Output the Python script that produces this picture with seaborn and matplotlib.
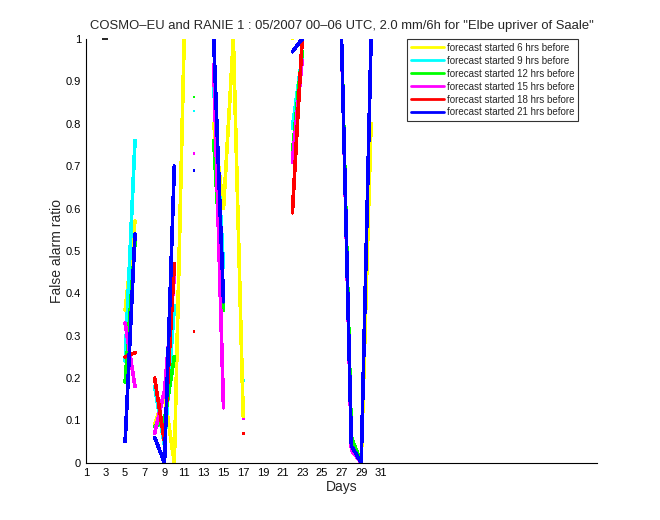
import numpy as np
import pandas as pd
import matplotlib
matplotlib.use("Agg")
import matplotlib.pyplot as plt
import seaborn as sns
from matplotlib.lines import Line2D

nan = np.nan
days = list(range(1, 32))

def series(vals):
    arr = [nan] * 31
    for d, v in vals.items():
        arr[d - 1] = v
    return arr

labels = ["forecast started 6 hrs before", "forecast started 9 hrs before",
          "forecast started 12 hrs before", "forecast started 15 hrs before",
          "forecast started 18 hrs before", "forecast started 21 hrs before"]
colors = ["#ffff00", "#00ffff", "#00ff00", "#ff00ff", "#ff0000", "#0000ff"]

far_6h = series({5: 0.36, 6: 0.57, 8: 0.09, 9: 0.16, 10: 0.0, 11: 1.0,
                 14: 0.80, 15: 0.60, 16: 1.0, 17: 0.11, 22: 1.0,
                 27: 1.0, 28: 0.05, 29: 0.0, 30: 0.80})
far_9h = series({5: 0.24, 6: 0.76, 8: 0.18, 9: 0.04, 10: 0.37, 12: 0.83,
                 14: 0.89, 15: 0.46, 17: 0.195, 22: 0.79, 23: 0.96,
                 27: 1.0, 28: 0.05, 29: 0.0, 30: 1.0})
far_12h = series({5: 0.19, 6: 0.52, 8: 0.085, 9: 0.10, 10: 0.25, 12: 0.863,
                  14: 0.76, 15: 0.36, 22: 0.73, 23: 0.97,
                  27: 1.0, 28: 0.06, 29: 0.0, 30: 1.0})
far_15h = series({5: 0.33, 6: 0.18, 8: 0.07, 9: 0.17, 10: 0.44, 12: 0.73,
                  14: 0.94, 15: 0.13, 17: 0.104, 22: 0.71, 23: 0.95,
                  27: 1.0, 28: 0.03, 29: 0.0, 30: 1.0})
far_18h = series({5: 0.25, 6: 0.26, 8: 0.20, 9: 0.05, 10: 0.47, 12: 0.31,
                  17: 0.07, 22: 0.59, 23: 1.0,
                  27: 1.0, 28: 0.04, 29: 0.0, 30: 1.0})
far_21h = series({5: 0.05, 6: 0.54, 8: 0.06, 9: 0.0, 10: 0.70, 12: 0.69,
                  14: 1.0, 15: 0.38, 17: 0.123, 22: 0.97, 23: 1.0,
                  27: 1.0, 28: 0.04, 29: 0.0, 30: 1.0})
all_series = [far_6h, far_9h, far_12h, far_15h, far_18h, far_21h]

black_mark_day = [3]
black_mark_val = [1.0]

xticks = list(range(1, 32, 2))
yticks = [round(0.1 * i, 1) for i in range(11)]

rows = []
for lab, vals in zip(labels, all_series):
    seg = 0
    prev_nan = True
    for d, v in zip(days, vals):
        if np.isnan(v):
            prev_nan = True
            continue
        if prev_nan:
            seg += 1
        prev_nan = False
        rows.append({"day": d, "far": v, "series": lab, "seg": f"{lab}-{seg}"})
df = pd.DataFrame(rows)
seg_size = df.groupby("seg")["day"].transform("size")
lines_df = df[seg_size > 1]
dots_df = df[seg_size == 1]

sns.set_style("white")
plt.rcParams["font.family"] = ["Liberation Sans", "DejaVu Sans"]

fig = plt.figure(figsize=(6.6, 5.2), dpi=100)
ax = fig.add_axes([0.13, 0.11, 0.775, 0.815])

palette = dict(zip(labels, colors))
sns.lineplot(data=lines_df, x="day", y="far", hue="series", units="seg",
             estimator=None, palette=palette, hue_order=labels, lw=1.9,
             sort=True, ax=ax, legend=False, antialiased=False)
sns.scatterplot(data=dots_df, x="day", y="far", hue="series", palette=palette,
                hue_order=labels, marker="s", s=4, linewidth=0, ax=ax, legend=False)
ax.plot(black_mark_day, black_mark_val, marker="_", color="black", ms=4,
        mew=1.2, ls="none", clip_on=False)

ax.set_xlim(1, 53)
ax.set_ylim(0, 1)
ax.set_xticks(xticks)
ax.set_xticklabels([str(t) for t in xticks])
ax.set_yticks(yticks)
ax.set_yticklabels(["0"] + [f"{t:g}" for t in yticks[1:-1]] + ["1"])
ax.tick_params(direction="in", length=4, width=0.8, labelsize=8, colors="black")
for s in ["top", "right"]:
    ax.spines[s].set_visible(False)
for s in ["left", "bottom"]:
    ax.spines[s].set_color("black")
    ax.spines[s].set_linewidth(0.8)

ax.set_xlabel("Days", fontsize=10, labelpad=2)
ax.set_ylabel("False alarm ratio", fontsize=10, labelpad=1)
ax.set_title('COSMO\u2013EU and RANIE 1 : 05/2007 00\u201306 UTC, 2.0 mm/6h for "Elbe upriver of Saale"',
             fontsize=9.4, pad=7)

handles = [Line2D([0], [0], color=c, lw=2) for c in colors]
leg = ax.legend(handles, labels, loc="upper right", bbox_to_anchor=(0.963, 1.0),
                fontsize=7, frameon=True, fancybox=False, handlelength=3.4,
                handletextpad=0.35, borderpad=0.4, labelspacing=0.3,
                borderaxespad=0.0)
leg.get_frame().set_edgecolor("black")
leg.get_frame().set_linewidth(0.8)

fig.savefig("out.png", dpi=100, facecolor="white")
